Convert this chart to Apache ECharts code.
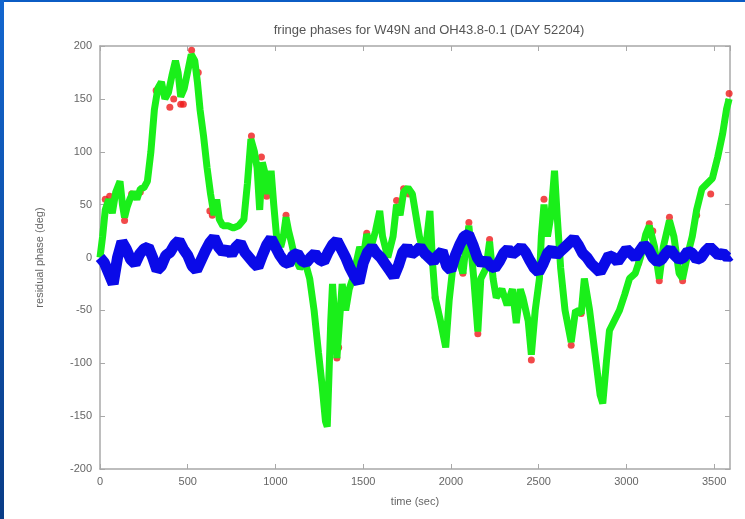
<!DOCTYPE html>
<html>
<head>
<meta charset="utf-8">
<script src="https://cdn.jsdelivr.net/npm/echarts@6/dist/echarts.min.js"></script>
<style>
html,body{margin:0;padding:0;background:#fff;}
#wrap{position:relative;width:745px;height:519px;overflow:hidden;background:#fff;}
#chart{position:absolute;left:0;top:0;width:745px;height:519px;}
#topbar{position:absolute;left:0;top:0;width:745px;height:2px;background:#0b5cc4;}
#leftbar{position:absolute;left:0;top:0;width:4px;height:519px;background:linear-gradient(#1366cf,#0a3c86);}
</style>
</head>
<body>
<div id="wrap">
<div id="chart"></div>
<div id="topbar"></div>
<div id="leftbar"></div>
</div>
<script>
const titleText = 'fringe phases for W49N and OH43.8-0.1 (DAY 52204)';
const xName = 'time (sec)';
const yName = 'residual phase (deg)';

const greenTime = [0,15,30,50,70,90,114,128,140,155,170,190,210,230,250,270,290,310,330,350,370,390,410,430,445,460,480,500,520,540,555,570,590,610,630,650,665,680,700,730,760,790,820,840,860,880,895,910,925,940,955,975,990,1005,1030,1045,1060,1075,1090,1110,1140,1170,1195,1220,1245,1265,1285,1295,1305,1315,1325,1335,1350,1365,1380,1400,1420,1440,1460,1480,1500,1520,1545,1570,1594,1610,1640,1670,1690,1710,1730,1755,1780,1800,1820,1850,1880,1895,1910,1940,1970,1990,2010,2030,2050,2068,2085,2102,2130,2153,2170,2200,2220,2240,2258,2290,2320,2350,2372,2395,2410,2440,2458,2480,2504,2515,2530,2550,2570,2590,2605,2625,2650,2685,2710,2742,2760,2790,2820,2850,2865,2885,2903,2930,2960,2990,3017,3050,3080,3110,3130,3160,3187,3210,3245,3270,3300,3320,3345,3375,3400,3430,3460,3490,3520,3548,3570,3585];
const greenPhase = [0,20,45,55,42,62,72,50,38,48,55,62,55,65,66,72,100,140,160,166,150,156,172,186,175,152,160,176,192,186,166,140,115,85,60,40,55,36,30,30,28,30,36,70,112,100,85,45,90,80,60,82,50,22,10,20,38,25,15,0,-10,-5,-20,-50,-90,-120,-155,-160,-110,-60,-25,-50,-95,-60,-25,-50,-30,-20,-5,10,0,22,10,25,44,20,0,20,50,40,62,66,60,40,20,0,44,-5,-38,-60,-85,-40,-10,5,-5,-15,10,30,-20,-70,-20,-10,15,-20,-38,-30,-45,-30,-62,-30,-38,-60,-92,-50,-20,20,50,20,40,82,40,-10,-50,-80,-50,-53,-20,-50,-90,-130,-138,-100,-69,-60,-50,-35,-20,-15,0,22,30,10,-20,10,35,20,-15,-20,0,20,45,65,70,75,95,117,140,150];

const redTime = [30,55,70,140,180,230,320,370,398,420,460,475,522,560,626,640,863,920,950,1000,1031,1060,1135,1350,1360,1520,1690,1730,1760,1910,2068,2102,2153,2220,2458,2530,2580,2685,2742,3070,3130,3150,3187,3245,3320,3400,3480,3585];
const redPhase = [55,58,50,35,60,62,158,158,142,150,145,145,196,175,44,40,115,95,58,10,16,40,-8,-95,-85,23,54,65,60,-38,-15,33,-72,17,-97,55,50,-83,-53,-5,32,25,-22,38,-22,40,60,155];

const blueTime = [0,25,50,75,100,125,150,175,200,225,250,275,300,325,350,375,400,425,450,475,500,525,550,575,600,625,650,675,700,725,750,775,800,825,850,875,900,925,950,975,1000,1025,1050,1075,1100,1125,1150,1175,1200,1225,1250,1275,1300,1325,1350,1375,1400,1425,1450,1475,1500,1525,1550,1575,1600,1625,1650,1675,1700,1725,1750,1775,1800,1825,1850,1875,1900,1925,1950,1975,2000,2025,2050,2075,2100,2125,2150,2175,2200,2225,2250,2275,2300,2325,2350,2375,2400,2425,2450,2475,2500,2525,2550,2575,2600,2625,2650,2675,2700,2725,2750,2775,2800,2825,2850,2875,2900,2925,2950,2975,3000,3025,3050,3075,3100,3125,3150,3175,3200,3225,3250,3275,3300,3325,3350,3375,3400,3425,3450,3475,3500,3525,3550,3575,3590];
const bluePhase = [0,-5,-15,-25,0,15,8,-2,-6,3,8,10,0,-12,-8,2,5,12,16,8,2,-8,-12,-3,6,14,19,10,5,8,3,10,14,5,0,-5,-9,2,12,18,10,2,-4,-6,2,4,-3,-5,0,4,-2,-4,5,12,16,8,0,-10,-18,-24,-5,5,10,4,0,-6,-12,-18,-8,5,10,3,6,10,4,0,-4,2,6,-8,-12,2,12,20,22,12,0,-6,-2,-8,-10,-4,4,8,3,6,10,5,-3,-10,-14,-6,4,8,2,6,10,14,18,12,4,0,-6,-10,-14,-6,2,0,-4,2,8,4,0,6,12,8,0,-4,-2,4,8,2,-2,0,6,4,-2,0,6,10,6,2,4,0,2];

const xTicks = {min: 0, max: 3590, interval: 500};
const yTicks = {min: -200, max: 200, interval: 50};

function pairs(t, v){ return t.map((x,i)=>[x, v[i]]); }

const chart = echarts.init(document.getElementById('chart'), null, {renderer:'canvas'});
const lineCol = '#a8a8a8';
const txtCol = '#666';
const font = '"Liberation Sans", Arial, sans-serif';
function baseAxis(extra){
  return Object.assign({
    type:'value',
    axisLine:{show:true, onZero:false, lineStyle:{color:lineCol, width:1.5}},
    axisTick:{show:true, inside:true, length:5, lineStyle:{color:lineCol, width:1}},
    splitLine:{show:false},
  }, extra);
}
chart.setOption({
  animation:false,
  backgroundColor:'#fff',
  title:{text:titleText, left:424, top:19, textAlign:'center',
    textStyle:{fontSize:13, fontWeight:'normal', color:'#555', fontFamily:font}},
  grid:{left:100, right:15, top:46, bottom:50, containLabel:false},
  xAxis:[
    baseAxis({min:xTicks.min, max:xTicks.max, interval:xTicks.interval, position:'bottom',
      name:xName, nameLocation:'middle', nameGap:27,
      nameTextStyle:{fontSize:11, color:txtCol, fontFamily:font},
      axisLabel:{fontSize:11, color:txtCol, fontFamily:font, margin:7, showMaxLabel:false,
        formatter:(v)=>String(v)}}),
    baseAxis({min:xTicks.min, max:xTicks.max, interval:xTicks.interval, position:'top',
      axisLabel:{show:false}})
  ],
  yAxis:[
    baseAxis({min:yTicks.min, max:yTicks.max, interval:yTicks.interval, position:'left',
      name:yName, nameLocation:'middle', nameGap:55, nameRotate:90,
      nameTextStyle:{fontSize:11, color:txtCol, fontFamily:font},
      axisLabel:{fontSize:11, color:txtCol, fontFamily:font, margin:8}}),
    baseAxis({min:yTicks.min, max:yTicks.max, interval:yTicks.interval, position:'right',
      axisLabel:{show:false}})
  ],
  series:[
    {type:'scatter', name:'raw', data:pairs(redTime, redPhase), symbolSize:7,
      itemStyle:{color:'#ee1c1c'}, z:1, silent:true},
    {type:'line', name:'corrected', data:pairs(greenTime, greenPhase), showSymbol:false,
      lineStyle:{color:'#1aef1a', width:7}, z:2, silent:true},
    {type:'line', name:'reference', data:pairs(blueTime, bluePhase), showSymbol:false,
      lineStyle:{color:'#0a0ae8', width:11}, z:3, silent:true}
  ]
});
</script>
</body>
</html>
